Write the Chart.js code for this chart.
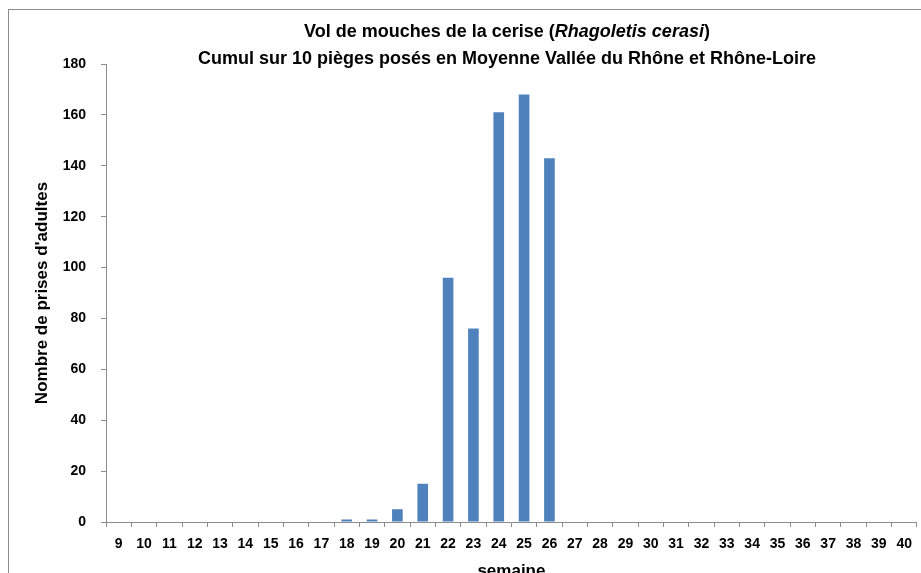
<!DOCTYPE html>
<html>
<head>
<meta charset="utf-8">
<script src="https://cdn.jsdelivr.net/npm/chart.js@4.4.0/dist/chart.umd.min.js"></script>
<style>
  html, body { margin: 0; padding: 0; background: #fff; overflow: hidden; }
  #wrap { position: relative; width: 921px; height: 573px; overflow: hidden; }
  #frame { position: absolute; left: 8px; top: 9px; width: 1000px; height: 700px; border: 1px solid #8c8c8c; box-sizing: border-box; }
  #title { position: absolute; left: 0; top: 18px; width: 1014px; text-align: center;
           font-family: 'Liberation Sans', Arial, sans-serif; font-weight: bold; font-size: 18px; line-height: 27px; color: #000; }
  canvas { position: absolute; left: 0; top: 0; }
</style>
</head>
<body>
<div id="wrap">
  <div id="frame"></div>
  <canvas id="flyChart" width="921" height="592"></canvas>
  <div id="title">Vol de mouches de la cerise (<i>Rhagoletis cerasi</i>)<br>Cumul sur 10 pièges posés en Moyenne Vallée du Rhône et Rhône-Loire</div>
</div>
<script>
// semaines 9 a 40
const weeks = ['9','10','11','12','13','14','15','16','17','18','19','20','21','22','23','24',
               '25','26','27','28','29','30','31','32','33','34','35','36','37','38','39','40'];
const captures = [0,0,0,0,0,0,0,0,0,1,1,5,15,96,76,161,
                  168,143,0,0,0,0,0,0,0,0,0,0,0,0,0,0];
const yTicks = [0,20,40,60,80,100,120,140,160,180];

const tickFont = { family: "'Liberation Sans', Arial, sans-serif", weight: 'bold', size: 14 };
const titleFont = { family: "'Liberation Sans', Arial, sans-serif", weight: 'bold', size: 17 };

var ctx = document.getElementById('flyChart').getContext('2d');

var flyChart = new Chart(ctx, {
  type: 'bar',
  data: {
    labels: weeks,
    datasets: [{
      label: 'captures',
      data: captures,
      backgroundColor: '#4F81BD',
      categoryPercentage: 1.0,
      barPercentage: 0.42
    }]
  },
  options: {
    responsive: false,
    animation: false,
    layout: { padding: { top: 64, right: 3, left: 0, bottom: 0 } },
    plugins: {
      legend: { display: false },
      tooltip: { enabled: false }
    },
    scales: {
      x: {
        offset: true,
        grid: { offset: true, drawOnChartArea: false, drawTicks: true, tickLength: 5, color: '#8c8c8c' },
        border: { color: '#8c8c8c' },
        ticks: { font: tickFont, color: '#000', maxRotation: 0, autoSkip: false, padding: 9 },
        title: { display: true, text: 'semaine', font: titleFont, color: '#000', padding: { top: 0, bottom: 10 } },
        afterFit: (scale) => { scale.height = 70; }
      },
      y: {
        min: 0,
        max: 180,
        afterBuildTicks: (scale) => { scale.ticks = yTicks.map(v => ({ value: v })); },
        grid: { drawOnChartArea: false, drawTicks: true, tickLength: 5, color: '#8c8c8c' },
        border: { color: '#8c8c8c' },
        ticks: { font: tickFont, color: '#000', padding: 15 },
        title: { display: true, text: "Nombre de prises d'adultes", font: titleFont, color: '#000', padding: { top: 32, bottom: 0 } },
        afterFit: (scale) => { scale.width = 106; }
      }
    }
  }
});
</script>
</body>
</html>
